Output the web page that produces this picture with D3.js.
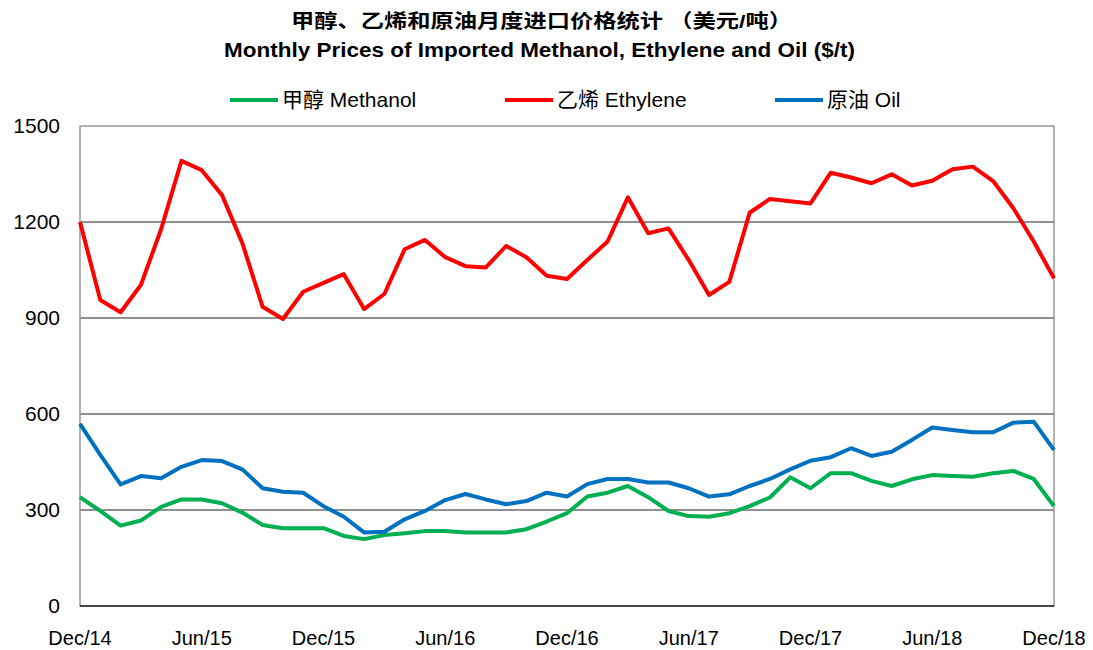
<!DOCTYPE html>
<html>
<head>
<meta charset="utf-8">
<script src="https://cdn.jsdelivr.net/npm/d3@7"></script>
<style>
  body { margin: 0; background: #fff; }
  text { font-family: "Liberation Sans", Arial, "Noto Sans CJK SC", sans-serif; }
</style>
</head>
<body>
<script>
const monthLabels = ['Dec/14', 'Jun/15', 'Dec/15', 'Jun/16', 'Dec/16', 'Jun/17', 'Dec/17', 'Jun/18', 'Dec/18']
const yTicks = [0, 300, 600, 900, 1200, 1500]

const methanol = [340, 297, 251, 267, 310, 333, 333, 321, 292, 253, 243, 243, 243, 219, 209, 222,
  227, 234, 234, 230, 230, 230, 240, 264, 290, 342, 354, 375, 340, 297, 281, 279,
  290, 312, 339, 402, 368, 415, 415, 391, 375, 396, 409, 406, 404, 415, 422, 397, 312]
const ethylene = [1200, 956, 918, 1003, 1178, 1391, 1362, 1284, 1134, 935, 897, 982, 1010, 1037, 928, 975,
  1115, 1144, 1090, 1062, 1058, 1125, 1090, 1032, 1022, 1081, 1139, 1277, 1165, 1180, 1081, 972,
  1013, 1229, 1272, 1265, 1258, 1354, 1339, 1321, 1349, 1314, 1329, 1365, 1373, 1328, 1243, 1139, 1024]
const oil = [569, 472, 380, 406, 399, 435, 456, 453, 427, 368, 357, 354, 312, 279, 230, 232,
  271, 297, 331, 350, 333, 318, 328, 354, 342, 381, 397, 397, 386, 386, 368, 342,
  349, 375, 397, 427, 454, 465, 493, 469, 482, 519, 558, 550, 543, 543, 573, 576, 488]

const series = [
  { name: '甲醇 Methanol', values: methanol, color: '#00B050' },
  { name: '乙烯 Ethylene', values: ethylene, color: '#FF0000' },
  { name: '原油 Oil', values: oil, color: '#0070C0' }
]

const width = 1093
const height = 650
const margin = { left: 80, right: 39, top: 126, bottom: 44 }

const svg = d3.select('body')
  .append('svg')
  .attr('width', width)
  .attr('height', height)

const x = d3.scaleLinear()
  .domain([0, methanol.length - 1])
  .range([margin.left, width - margin.right])

const y = d3.scaleLinear()
  .domain([0, 1500])
  .range([height - margin.bottom, margin.top])

// titles
svg.append('text')
  .attr('x', 291).attr('y', 28)
  .attr('textLength', 501)
  .attr('lengthAdjust', 'spacingAndGlyphs')
  .style('font-size', '19px').style('font-weight', 'bold')
  .text('甲醇、乙烯和原油月度进口价格统计 （美元/吨）')

svg.append('text')
  .attr('x', 224).attr('y', 57)
  .attr('textLength', 631)
  .attr('lengthAdjust', 'spacingAndGlyphs')
  .style('font-size', '20px').style('font-weight', 'bold')
  .text('Monthly Prices of Imported Methanol, Ethylene and Oil ($/t)')

// gridlines
svg.append('g')
  .selectAll('line')
  .data(yTicks.filter(d => d > 0 && d < 1500))
  .enter()
  .append('line')
  .attr('x1', x(0)).attr('x2', x(48))
  .attr('y1', d => y(d)).attr('y2', d => y(d))
  .attr('stroke', '#222')
  .attr('stroke-width', 1.2)

// frame
svg.append('rect')
  .attr('x', x(0)).attr('y', y(1500))
  .attr('width', x(48) - x(0)).attr('height', y(0) - y(1500))
  .attr('fill', 'none')
  .attr('stroke', '#999')
  .attr('stroke-width', 1.5)

svg.append('line')
  .attr('x1', x(0)).attr('x2', x(48))
  .attr('y1', y(0)).attr('y2', y(0))
  .attr('stroke', '#222')
  .attr('stroke-width', 1.5)

// y labels
svg.append('g')
  .selectAll('text')
  .data(yTicks)
  .enter()
  .append('text')
  .attr('x', 60)
  .attr('y', d => y(d) + 7)
  .attr('text-anchor', 'end')
  .style('font-size', '21px')
  .text(d => d)

// x labels
svg.append('g')
  .selectAll('text')
  .data(monthLabels)
  .enter()
  .append('text')
  .attr('x', (d, i) => x(i * 6))
  .attr('y', 645)
  .attr('text-anchor', 'middle')
  .style('font-size', '20px')
  .text(d => d)

// lines
const line = d3.line()
  .x((d, i) => x(i))
  .y(d => y(d))

svg.append('g')
  .selectAll('path')
  .data(series)
  .enter()
  .append('path')
  .attr('d', d => line(d.values))
  .attr('fill', 'none')
  .attr('stroke', d => d.color)
  .attr('stroke-width', 4)
  .attr('stroke-linejoin', 'round')

// legend
const legendX = [230, 505, 775]
const legend = svg.append('g')
  .selectAll('g')
  .data(series)
  .enter()
  .append('g')
  .attr('transform', (d, i) => `translate(${legendX[i]}, 100)`)

legend.append('line')
  .attr('x1', 0).attr('x2', 48)
  .attr('stroke', d => d.color)
  .attr('stroke-width', 4)

legend.append('text')
  .attr('x', 52).attr('y', 7)
  .style('font-size', '21px')
  .text(d => d.name)
</script>
</body>
</html>
